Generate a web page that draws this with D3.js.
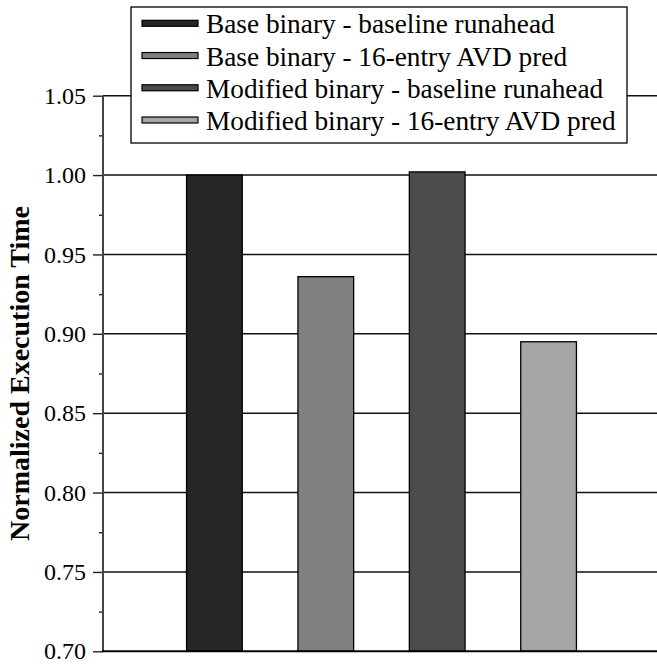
<!DOCTYPE html>
<html>
<head>
<meta charset="utf-8">
<script src="https://cdn.jsdelivr.net/npm/d3@7/dist/d3.min.js"></script>
<style>
  html, body { margin: 0; padding: 0; background: #fff; }
  svg { display: block; }
</style>
</head>
<body>
<script>
// Series and values
const series = [
  "Base binary - baseline runahead",
  "Base binary - 16-entry AVD pred",
  "Modified binary - baseline runahead",
  "Modified binary - 16-entry AVD pred"
];
const values = [1.000, 0.936, 1.002, 0.895];
const colors = ["#262626", "#808080", "#4b4b4b", "#a6a6a6"];
const majorTicks = [0.70, 0.75, 0.80, 0.85, 0.90, 0.95, 1.00, 1.05];
const minorTicks = [0.725, 0.775, 0.825, 0.875, 0.925, 0.975, 1.025];
const yTitle = "Normalized Execution Time";

const W = 657, H = 664;
const plotLeft = 103, plotRight = 660, plotTop = 95.7, plotBottom = 651.3;
const serif = '"Liberation Serif"';

const svg = d3.select("body").append("svg")
  .attr("width", W).attr("height", H);

const y = d3.scaleLinear().domain([0.70, 1.05]).range([plotBottom, plotTop]);
const x = d3.scaleBand().domain(series).range([plotLeft, plotRight])
  .paddingInner(0.5).paddingOuter(0.75);

// Horizontal gridlines
svg.append("g").selectAll("line")
  .data(majorTicks.filter(d => d > 0.70))
  .join("line")
  .attr("x1", plotLeft).attr("x2", plotRight)
  .attr("y1", d => y(d)).attr("y2", d => y(d))
  .attr("stroke", "#111").attr("stroke-width", 1.4);

// Bars
svg.append("g").selectAll("rect")
  .data(series)
  .join("rect")
  .attr("x", d => x(d))
  .attr("width", x.bandwidth())
  .attr("y", (d, i) => y(values[i]))
  .attr("height", (d, i) => y(0.70) - y(values[i]))
  .attr("fill", (d, i) => colors[i])
  .attr("stroke", "#000").attr("stroke-width", 1.3);

// Y axis with major ticks and labels
const yAxis = d3.axisLeft(y)
  .tickValues(majorTicks)
  .tickFormat(d3.format(".2f"))
  .tickSize(10)
  .tickPadding(7);
const ga = svg.append("g")
  .attr("transform", `translate(${plotLeft},0)`)
  .call(yAxis);
ga.attr("font-family", null).attr("font-size", null);
ga.select(".domain").remove();
ga.selectAll(".tick line").attr("stroke", "#222").attr("stroke-width", 1.4);
ga.selectAll(".tick text")
  .style("font-family", serif)
  .style("font-size", "24px").attr("fill", "#000");

// Minor ticks
const yMinor = d3.axisLeft(y).tickValues(minorTicks).tickFormat("").tickSize(4);
const gm = svg.append("g").attr("transform", `translate(${plotLeft},0)`).call(yMinor);
gm.select(".domain").remove();
gm.selectAll(".tick line").attr("stroke", "#222").attr("stroke-width", 1.4);

// Vertical axis line
svg.append("line")
  .attr("x1", plotLeft).attr("x2", plotLeft)
  .attr("y1", y(1.05)).attr("y2", y(0.70))
  .attr("stroke", "#444").attr("stroke-width", 2);

// Baseline
svg.append("line")
  .attr("x1", plotLeft - 1).attr("x2", plotRight)
  .attr("y1", y(0.70)).attr("y2", y(0.70))
  .attr("stroke", "#000").attr("stroke-width", 2);

// Y axis title
svg.append("text")
  .attr("transform", `translate(29,${(plotTop + plotBottom) / 2}) rotate(-90)`)
  .attr("text-anchor", "middle")
  .style("font-family", serif)
  .style("font-weight", "bold")
  .style("font-size", "28px")
  .attr("fill", "#000")
  .text(yTitle);

// Legend
const lg = svg.append("g");
lg.append("rect")
  .attr("x", 131).attr("y", 7).attr("width", 496).attr("height", 136)
  .attr("fill", "#fff").attr("stroke", "#000").attr("stroke-width", 1.3);
const rowY = d3.scalePoint().domain(series).range([23.3, 120]);
const rows = lg.selectAll("g.row").data(series).join("g")
  .attr("class", "row")
  .attr("transform", d => `translate(0,${rowY(d)})`);
rows.append("rect")
  .attr("x", 142).attr("y", -3).attr("width", 56).attr("height", 6)
  .attr("fill", (d, i) => colors[i])
  .attr("stroke", "#000").attr("stroke-width", 1.2);
rows.append("text")
  .attr("x", 206).attr("y", 10)
  .style("font-family", serif)
  .style("font-size", "27.3px")
  .attr("fill", "#000")
  .text(d => d);
</script>
</body>
</html>
